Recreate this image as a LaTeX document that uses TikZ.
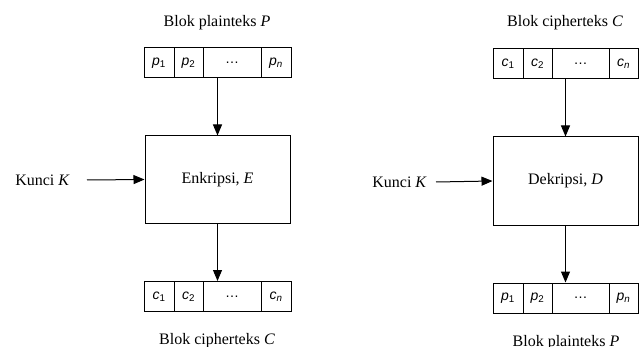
\documentclass[tikz,border=0pt]{standalone}
\usepackage{fontspec}
\setmainfont{Liberation Serif}
\setsansfont{Liberation Sans}
\usetikzlibrary{arrows.meta}

\begin{document}
\begin{tikzpicture}[x=1pt,y=-1pt]

\tikzstyle{lbl}=[font=\fontsize{16}{19}\selectfont,inner sep=0pt]
\tikzstyle{cel}=[draw,line width=1pt,minimum height=30pt,inner sep=0pt,font=\sffamily\itshape\fontsize{14}{16}\selectfont]
\tikzstyle{blk}=[draw,line width=1pt,minimum width=145pt,minimum height=87pt,inner sep=0pt,font=\fontsize{16}{19}\selectfont]
\tikzstyle{arr}=[line width=1pt,-{Triangle[length=11pt,width=9pt]}]

\useasboundingbox (0,0) rectangle (644,347);

% enkripsi
\node[lbl,anchor=base] (ptitle) at (217,26.5) {Blok plainteks \textit{P}};
\node[cel,minimum width=30pt] (pa1) at (159,63) {p\textsubscript{\upshape 1}};
\node[cel,minimum width=29pt] (pa2) at (188.5,63) {p\textsubscript{\upshape 2}};
\node[cel,minimum width=58pt] (padots) at (232,63) {\upshape\dots};
\node[cel,minimum width=30pt] (pan) at (276,63) {p\textsubscript{n}};

\node[blk] (enc) at (217.5,179.5) {Enkripsi, \textit{E}};
\node[lbl,anchor=east] (keyl) at (70,180) {Kunci \textit{K}};

\node[cel,minimum width=30pt] (ca1) at (159,296.5) {c\textsubscript{\upshape 1}};
\node[cel,minimum width=29pt] (ca2) at (188.5,296.5) {c\textsubscript{\upshape 2}};
\node[cel,minimum width=58pt] (cadots) at (232,296.5) {\upshape\dots};
\node[cel,minimum width=30pt] (can) at (276,296.5) {c\textsubscript{n}};
\node[lbl,anchor=base] (ctitle) at (217,344) {Blok cipherteks \textit{C}};

\draw[arr] (enc.north |- padots.south) -- (enc.north);
\draw[arr] ([xshift=17pt]keyl.east) -- (enc.west);
\draw[arr] (enc.south) -- (enc.south |- cadots.north);

% dekripsi
\node[lbl,anchor=base] (ctitleb) at (565,26.5) {Blok cipherteks \textit{C}};
\node[cel,minimum width=30pt] (cb1) at (508,64) {c\textsubscript{\upshape 1}};
\node[cel,minimum width=29pt] (cb2) at (537.5,64) {c\textsubscript{\upshape 2}};
\node[cel,minimum width=57pt] (cbdots) at (580.5,64) {\upshape\dots};
\node[cel,minimum width=29pt] (cbn) at (623.5,64) {c\textsubscript{n}};

\node[blk,minimum height=88pt] (dec) at (565.5,181) {Dekripsi, \textit{D}};
\node[lbl,anchor=east] (keyr) at (427,182) {Kunci \textit{K}};

\node[cel,minimum width=30pt] (pb1) at (508,298) {p\textsubscript{\upshape 1}};
\node[cel,minimum width=29pt] (pb2) at (537.5,298) {p\textsubscript{\upshape 2}};
\node[cel,minimum width=57pt] (pbdots) at (580.5,298) {\upshape\dots};
\node[cel,minimum width=29pt] (pbn) at (623.5,298) {p\textsubscript{n}};
\node[lbl,anchor=base] (ptitleb) at (566,346) {Blok plainteks \textit{P}};

\draw[arr] (dec.north |- cbdots.south) -- (dec.north);
\draw[arr] ([xshift=9pt]keyr.east) -- (dec.west);
\draw[arr] (dec.south) -- (dec.south |- pbdots.north);

\end{tikzpicture}
\end{document}
